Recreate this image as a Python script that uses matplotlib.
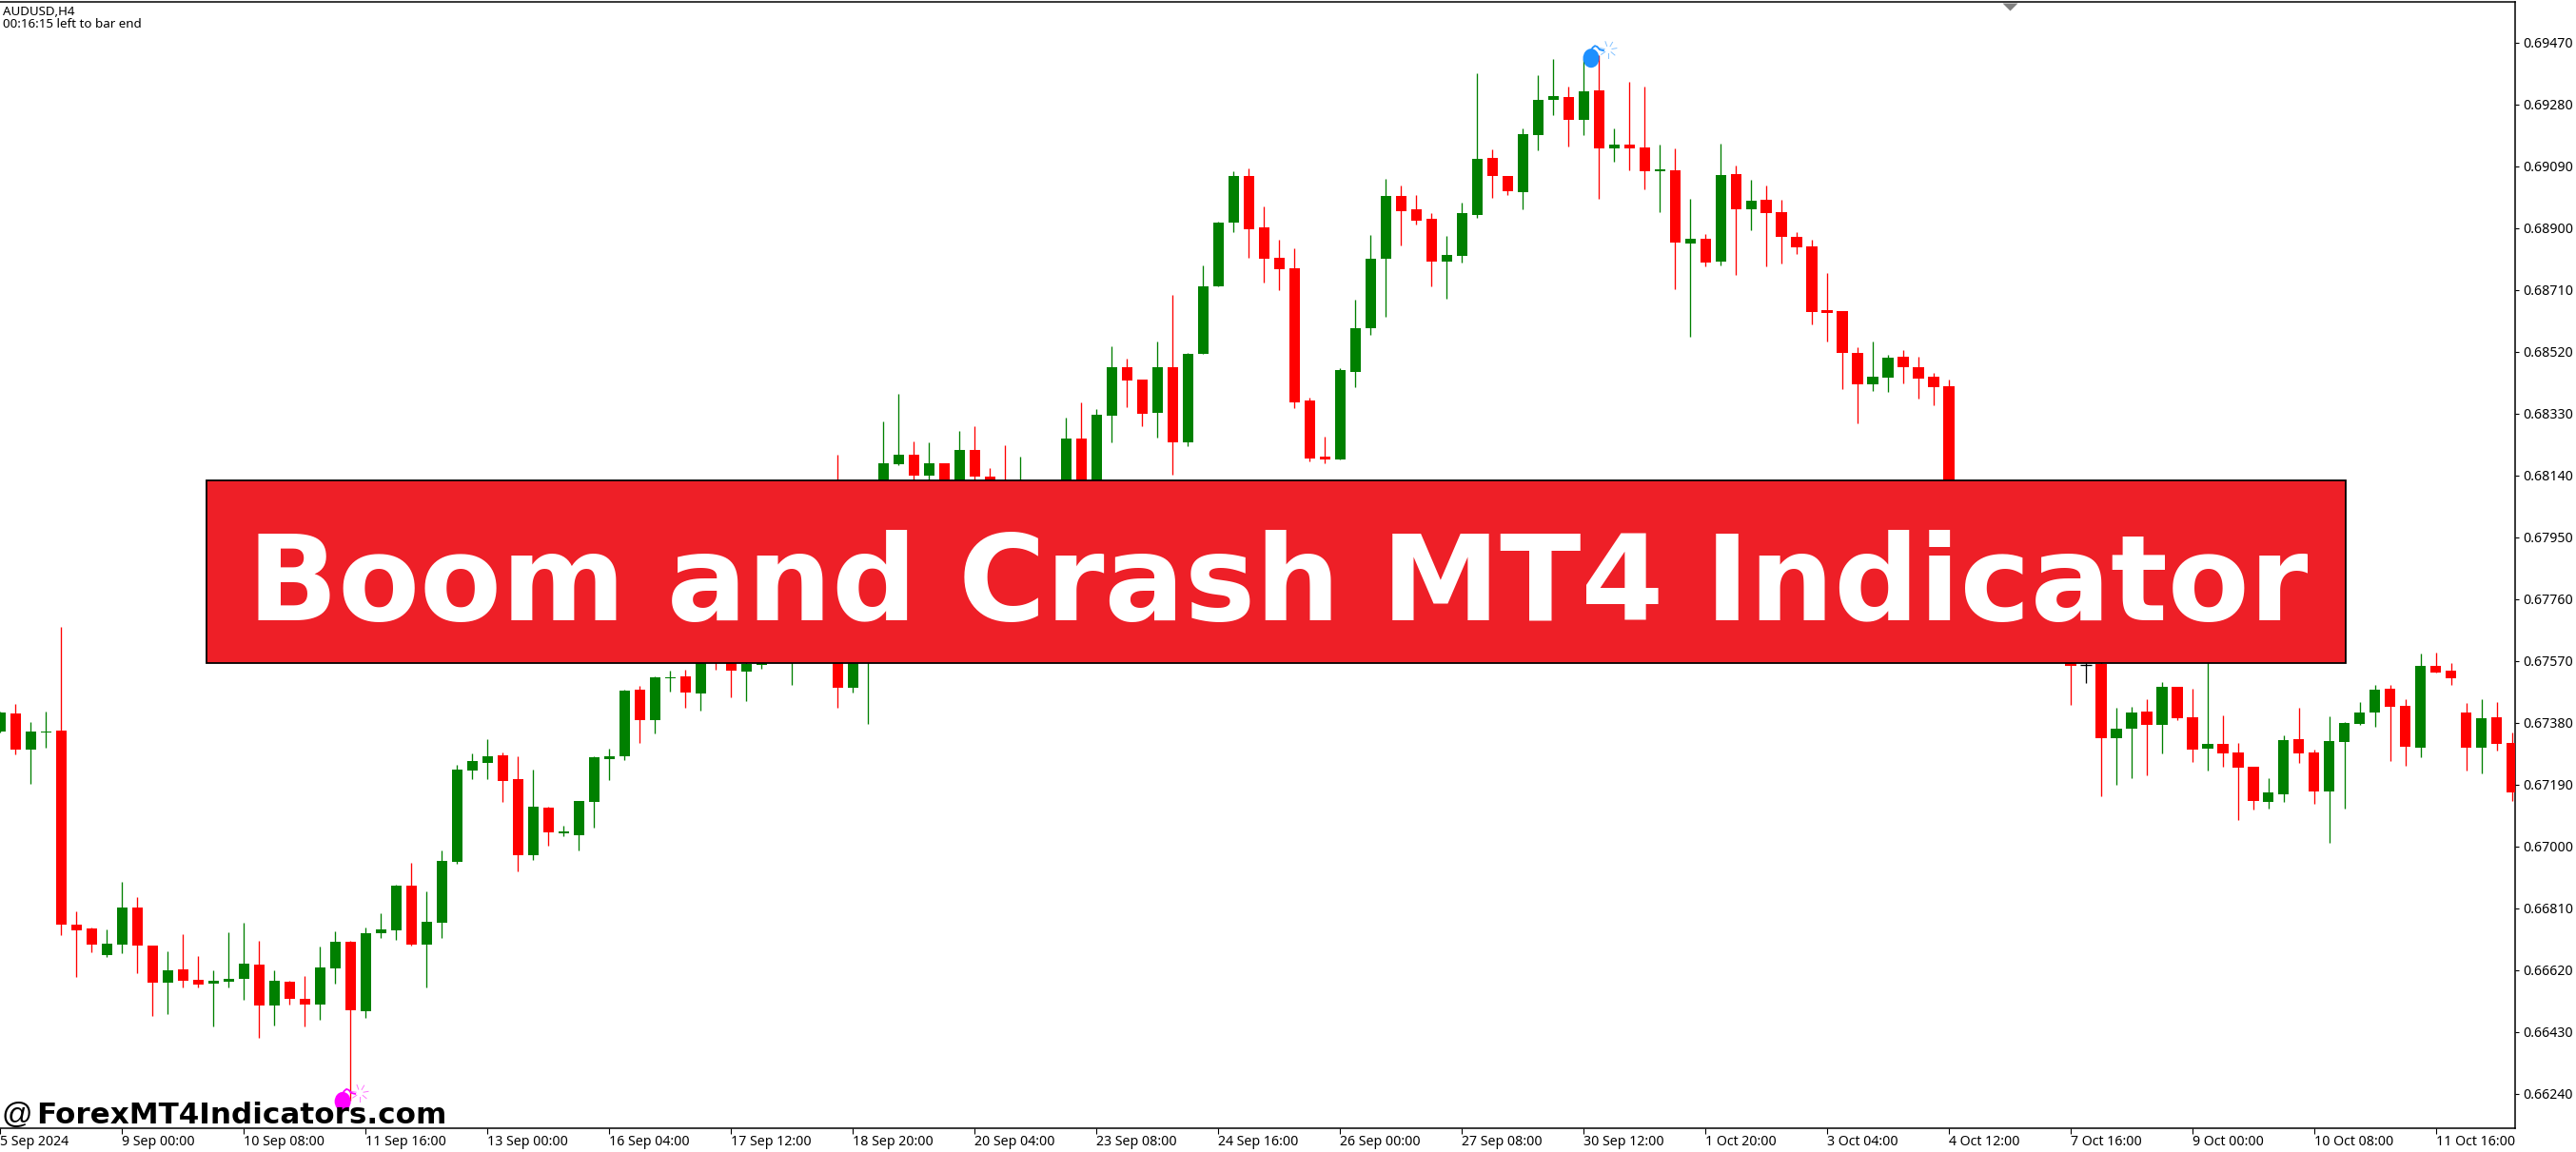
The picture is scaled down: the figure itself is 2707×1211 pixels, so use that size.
import matplotlib
matplotlib.use("Agg")
import matplotlib.pyplot as plt
from matplotlib.patches import Rectangle, Ellipse
from matplotlib.transforms import Affine2D
import numpy as np

# AUDUSD H4, prices (bars under the banner are estimates)
highs = [
    .67414,.67438,.67383,.67414,.67675,.66799,.66751,.66745,.66892,.66844,.66696,.66678,.66730,.66664,.66620,.66737,
    .66766,.66711,.66620,.66587,.66602,.66693,.66740,.66711,.66751,.66795,.66883,.66950,.66862,.66988,.67251,.67286,
    .67330,.67289,.67277,.67237,.67123,.67064,.67140,.67277,.67300,.67482,.67494,.67521,.67540,.67543,.67700,.67720,
    .67640,.67600,.67620,.67750,.67720,.67820,.67860,.68203,.67900,.68050,.68306,.68390,.68244,.68241,.68177,.68276,
    .68291,.68162,.68233,.68198,.68100,.68110,.68317,.68364,.68344,.68537,.68499,.68434,.68551,.68694,.68516,.68785,
    .68920,.69074,.69083,.68966,.68864,.68838,.68379,.68259,.68469,.68680,.68879,.69051,.69031,.69001,.68946,.68876,
    .68978,.69376,.69142,.69060,.69206,.69370,.69419,.69335,.69419,.69430,.69206,.69349,.69335,.69156,.69145,.68990,
    .68882,.69159,.69092,.69048,.69031,.68987,.68887,.68864,.68762,.68645,.68534,.68551,.68510,.68525,.68504,.68455,
    .68434,.68050,.67950,.67920,.67930,.67820,.67780,.67780,.67700,.67590,.67590,.67426,.67429,.67453,.67505,.67491,
    .67484,.67650,.67403,.67318,.67245,.67210,.67341,.67426,.67297,.67400,.67383,.67444,.67497,.67497,.67453,.67593,
    .67596,.67564,.67440,.67453,.67444,.67351,
]
opens = [
    .67354,.67409,.67297,.67351,.67356,.66760,.66748,.66667,.66699,.66813,.66696,.66582,.66623,.66590,.66579,.66585,
    .66594,.66637,.66512,.66585,.66532,.66514,.66626,.66707,.66494,.66734,.66742,.66880,.66699,.66766,.66953,.67233,
    .67256,.67280,.67207,.66973,.67119,.67041,.67035,.67137,.67269,.67277,.67482,.67388,.67517,.67523,.67470,.67660,
    .67590,.67536,.67558,.67700,.67600,.67680,.67800,.67800,.67488,.67650,.68050,.68174,.68203,.68139,.68177,.68100,
    .68218,.68136,.68100,.68000,.68060,.67980,.68060,.68253,.68060,.68323,.68472,.68434,.68332,.68472,.68241,.68513,
    .68721,.68917,.69060,.68902,.68808,.68776,.68370,.68198,.68189,.68458,.68592,.68806,.68998,.68958,.68928,.68797,
    .68814,.68940,.69115,.69060,.69010,.69186,.69294,.69302,.69232,.69323,.69145,.69156,.69148,.69074,.69077,.68852,
    .68867,.68797,.69066,.68958,.68987,.68949,.68873,.68844,.68648,.68645,.68516,.68420,.68440,.68504,.68472,.68443,
    .68414,.68000,.67900,.67850,.67900,.67780,.67700,.67740,.67640,.67557,.67561,.67331,.67362,.67414,.67374,.67491,
    .67398,.67300,.67315,.67289,.67245,.67137,.67160,.67330,.67289,.67170,.67321,.67377,.67411,.67484,.67432,.67304,
    .67554,.67540,.67411,.67304,.67398,.67318,
]
closes = [
    .67411,.67296,.67354,.67354,.66758,.66742,.66699,.66701,.66813,.66696,.66582,.66620,.66587,.66576,.66587,.66594,
    .66641,.66512,.66587,.66532,.66514,.66628,.66707,.66497,.66734,.66745,.66880,.66699,.66769,.66955,.67237,.67263,
    .67277,.67201,.66973,.67123,.67043,.67046,.67140,.67274,.67277,.67479,.67388,.67520,.67520,.67473,.67650,.67590,
    .67539,.67561,.67590,.67610,.67680,.67780,.67700,.67488,.67700,.67800,.68177,.68203,.68139,.68177,.68090,.68218,
    .68136,.68100,.68020,.68100,.67980,.68060,.68253,.68050,.68326,.68472,.68431,.68329,.68472,.68241,.68513,.68721,
    .68917,.69060,.68896,.68806,.68773,.68364,.68192,.68189,.68464,.68592,.68806,.68998,.68952,.68922,.68797,.68817,
    .68946,.69112,.69060,.69013,.69188,.69294,.69305,.69232,.69320,.69145,.69156,.69145,.69074,.69080,.68855,.68867,
    .68794,.69063,.68958,.68984,.68946,.68873,.68841,.68642,.68639,.68516,.68420,.68443,.68502,.68472,.68437,.68411,
    .68000,.67900,.67850,.67900,.67780,.67700,.67740,.67640,.67554,.67557,.67331,.67362,.67411,.67374,.67491,.67394,
    .67297,.67315,.67286,.67242,.67140,.67167,.67326,.67286,.67170,.67324,.67380,.67411,.67482,.67429,.67307,.67554,
    .67535,.67517,.67304,.67394,.67315,.67167,
]
lows = [
    .67350,.67284,.67193,.67304,.66727,.66599,.66675,.66660,.66672,.66611,.66480,.66485,.66567,.66567,.66447,.66567,
    .66529,.66413,.66450,.66514,.66447,.66468,.66579,.66219,.66473,.66719,.66713,.66696,.66567,.66719,.66947,.67207,
    .67207,.67137,.66924,.66958,.67002,.67032,.66988,.67058,.67204,.67266,.67318,.67347,.67476,.67426,.67417,.67543,
    .67458,.67447,.67546,.67600,.67497,.67640,.67650,.67426,.67473,.67377,.67950,.68171,.68100,.68100,.68050,.68050,
    .68100,.68050,.67980,.67950,.67940,.67950,.68000,.68000,.68020,.68241,.68350,.68291,.68256,.68142,.68230,.68513,
    .68721,.68887,.68808,.68732,.68709,.68347,.68183,.68177,.68189,.68411,.68572,.68627,.68846,.68911,.68721,.68683,
    .68794,.68931,.68993,.69001,.68958,.69139,.69247,.69150,.69186,.68990,.69104,.69077,.69019,.68949,.68712,.68566,
    .68782,.68785,.68756,.68893,.68782,.68791,.68820,.68604,.68551,.68405,.68300,.68399,.68396,.68423,.68376,.68355,
    .67950,.67860,.67820,.67820,.67750,.67660,.67680,.67600,.67435,.67502,.67155,.67190,.67210,.67219,.67286,.67388,
    .67260,.67233,.67245,.67082,.67113,.67116,.67137,.67256,.67131,.67012,.67116,.67374,.67368,.67263,.67248,.67274,
    .67535,.67497,.67233,.67225,.67295,.67140,
]

xtick_bars = list(range(0, 161, 8))
xtick_labels = ["5 Sep 2024", "9 Sep 00:00", "10 Sep 08:00", "11 Sep 16:00", "13 Sep 00:00", "16 Sep 04:00",
                "17 Sep 12:00", "18 Sep 20:00", "20 Sep 04:00", "23 Sep 08:00", "24 Sep 16:00", "26 Sep 00:00",
                "27 Sep 08:00", "30 Sep 12:00", "1 Oct 20:00", "3 Oct 04:00", "4 Oct 12:00", "7 Oct 16:00",
                "9 Oct 00:00", "10 Oct 08:00", "11 Oct 16:00"]
ytick_values = [.69470, .69280, .69090, .68900, .68710, .68520, .68330, .68140, .67950,
                .67760, .67570, .67380, .67190, .67000, .66810, .66620, .66430, .66240]

W, H = 2707, 1211
UP = "#008000"
DOWN = "#FF0000"
UI_FONT = ["Noto Sans", "DejaVu Sans"]

def fx(px):
    return px / W

def fy(py):
    return 1 - py / H

fig = plt.figure(figsize=(W / 100, H / 100), dpi=100, facecolor="white")
ax = fig.add_axes([0, fy(1185.6), fx(2643), (1185.6 - 2) / H])

bars = np.arange(len(opens))
highs, opens, closes, lows = map(np.array, (highs, opens, closes, lows))
colors = [UP if c > o else DOWN if c < o else "black" for o, c in zip(opens, closes)]

ax.vlines(bars, lows, highs, colors=colors, linewidth=0.95, zorder=2)
body_low = np.minimum(opens, closes)
body_high = np.maximum(opens, closes)
ax.bar(bars, body_high - body_low, bottom=body_low, width=0.69, color=colors, linewidth=0, zorder=3)
doji = opens == closes
ax.hlines(opens[doji], bars[doji] - 0.35, bars[doji] + 0.35, colors="black", linewidth=0.95, zorder=3)

XLIM = (-0.01, 165.19)
YLIM = (0.66135, 0.69595)
ax.set_xlim(*XLIM)
ax.set_ylim(*YLIM)

ax.set_xticks(xtick_bars)
ax.set_xticklabels(xtick_labels, ha="left", family=UI_FONT, fontsize=10.2)
ax.set_yticks(ytick_values)
ax.set_yticklabels([f"{v:.5f}" for v in ytick_values], family=UI_FONT, fontsize=10.2)
ax.yaxis.tick_right()
ax.tick_params(axis="x", length=4, width=0.8, pad=1.5, color="black")
ax.tick_params(axis="y", length=3, width=0.8, pad=3, color="black")
ax.spines["left"].set_visible(False)
for s in ("top", "right", "bottom"):
    ax.spines[s].set_linewidth(1.1)

# grey shift marker hanging from the top edge
ax.plot([132], [1 - 4.5 / 1183.6], marker=[(-8, 4), (8, 4), (0, -4)], markersize=11.5, color="#808080",
        markeredgewidth=0, transform=ax.get_xaxis_transform(), clip_on=False, zorder=5)


def draw_bomb(bar, price, color):
    cx, cy = ax.transData.transform((bar, price))
    tr = Affine2D().translate(cx - 8, cy)
    ax.add_patch(Ellipse((0, 0), 17, 20, facecolor=color, edgecolor="none", transform=tr, clip_on=False, zorder=6))
    ax.plot([0, 1.5, 4, 6.5, 9, 13], [8, 11, 13, 12, 9, 8], color=color, lw=1.3, transform=tr, clip_on=False, zorder=6)
    for a in np.deg2rad([10, 60, 110, 170, 215, 270, 320]):
        ax.plot([18 + 4 * np.cos(a), 18 + 9 * np.cos(a)], [9 + 4 * np.sin(a), 9 + 9 * np.sin(a)],
                color=color, lw=0.7, alpha=0.55, transform=tr, clip_on=False, zorder=6)


draw_bomb(105, 0.69422, "#1E90FF")
draw_bomb(23, 0.66216, "#FF00FF")

ax.set_xlim(*XLIM)
ax.set_ylim(*YLIM)

fig.text(fx(3), fy(12), "AUDUSD,H4", family=UI_FONT, fontsize=9.6, va="center", ha="left")
fig.text(fx(3), fy(25.5), "00:16:15 left to bar end", family=UI_FONT, fontsize=9.6, va="center", ha="left")

fig.add_artist(Rectangle((fx(216.7), fy(696.5)), fx(2464.5 - 216.7), (696.5 - 505) / H, facecolor="#EE1F27",
                         edgecolor="black", linewidth=1.3, transform=fig.transFigure, zorder=10))
fig.text(fx(1343), fy(652), "Boom and Crash MT4 Indicator", family="DejaVu Sans", weight="bold",
         fontsize=90, color="white", ha="center", va="baseline", zorder=11)
fig.text(fx(1), fy(1181), "@", family="Liberation Sans", fontsize=23, color="black", ha="left", va="baseline", zorder=12)
fig.text(fx(38), fy(1181), "ForexMT4Indicators.com", family="DejaVu Sans", weight="bold",
         fontsize=22.3, color="black", ha="left", va="baseline", zorder=12)

fig.savefig("out.png", dpi=100, facecolor="white")
